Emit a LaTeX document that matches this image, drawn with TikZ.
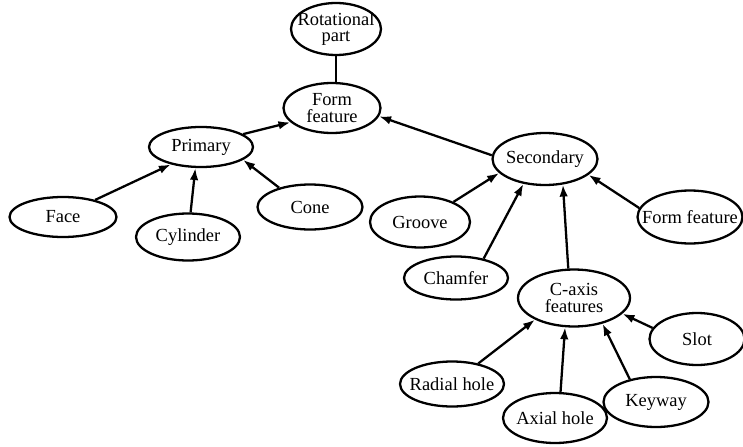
\documentclass[tikz,border=0pt]{standalone}
\usepackage{fontspec}
\setmainfont{Liberation Serif}
\usetikzlibrary{shapes.geometric,arrows.meta}
\tikzset{
    feat/.style = {draw, ellipse, line width = 1.3pt, inner sep = -9pt,
        minimum width = 2.08cm, minimum height = 0.92cm, align = center,
        font = \fontsize{10.5}{9.6}\selectfont},
    link/.style = {line width = 1.3pt, -{Latex[length = 2.4mm, width = 1.7mm]}}
}
\begin{document}
\begin{tikzpicture}[x = 0.02cm, y = -0.02cm]
        \useasboundingbox (0, 0) rectangle (743, 446);
        % top of the tree
        \node[feat, minimum width = 1.8cm, minimum height = 1.04cm](rot) at (336, 29){Rotational\\part};
        \node[feat, minimum width = 1.94cm, minimum height = 1cm](form) at (332, 108){Form\\feature};
        % primary branch
        \node[feat, minimum height = 0.8cm](prim) at (201, 147){Primary};
        \node[feat, minimum width = 2.14cm, minimum height = 0.8cm](face) at (63, 217){Face};
        \node[feat, minimum height = 0.94cm](cyl) at (188, 237){Cylinder};
        \node[feat, minimum width = 2.1cm, minimum height = 0.9cm](cone) at (310, 207){Cone};
        % secondary branch
        \node[feat, minimum width = 2.1cm, minimum height = 1.04cm](sec) at (545, 159){Secondary};
        \node[feat, minimum width = 2cm, minimum height = 1.02cm](groove) at (420, 222){Groove};
        \node[feat, minimum width = 2.1cm, minimum height = 1.06cm](formr) at (690, 217){Form feature};
        \node[feat, minimum height = 0.86cm](cham) at (456, 278){Chamfer};
        \node[feat, minimum width = 2.24cm, minimum height = 1.14cm](caxis) at (574, 298){C-axis\\features};
        % C-axis features
        \node[feat, minimum width = 1.9cm, minimum height = 1.04cm](slot) at (697, 339){Slot};
        \node[feat, minimum height = 0.9cm](radial) at (452, 384){Radial hole};
        \node[feat, minimum height = 1cm](axial) at (555, 418){Axial hole};
        \node[feat, minimum width = 2.1cm, minimum height = 1cm](keyway) at (656, 402){Keyway};
        % connectors
        \draw[line width = 1.3pt] (rot.south) -- (rot.south |- form.north);
        \draw[link] (prim.17) -- (form.199);
        \draw[link] (face.28) -- (prim.210);
        \draw[link] (cyl.84) -- (prim.255);
        \draw[link] (cone.148) -- (prim.-17);
        \draw[link] (sec.176) -- (form.-10);
        \draw[link] (groove.31) -- (sec.197);
        \draw[link] (cham.35) -- (sec.229);
        \draw[link] (caxis.101) -- (sec.-55);
        \draw[link] (formr.170) -- (sec.-20);
        \draw[link] (radial.38) -- (caxis.209);
        \draw[link] (axial.78) -- (caxis.253);
        \draw[link] (keyway.139) -- (caxis.-42);
        \draw[link] (slot.166) -- (caxis.-18);
    \end{tikzpicture}
\end{document}
